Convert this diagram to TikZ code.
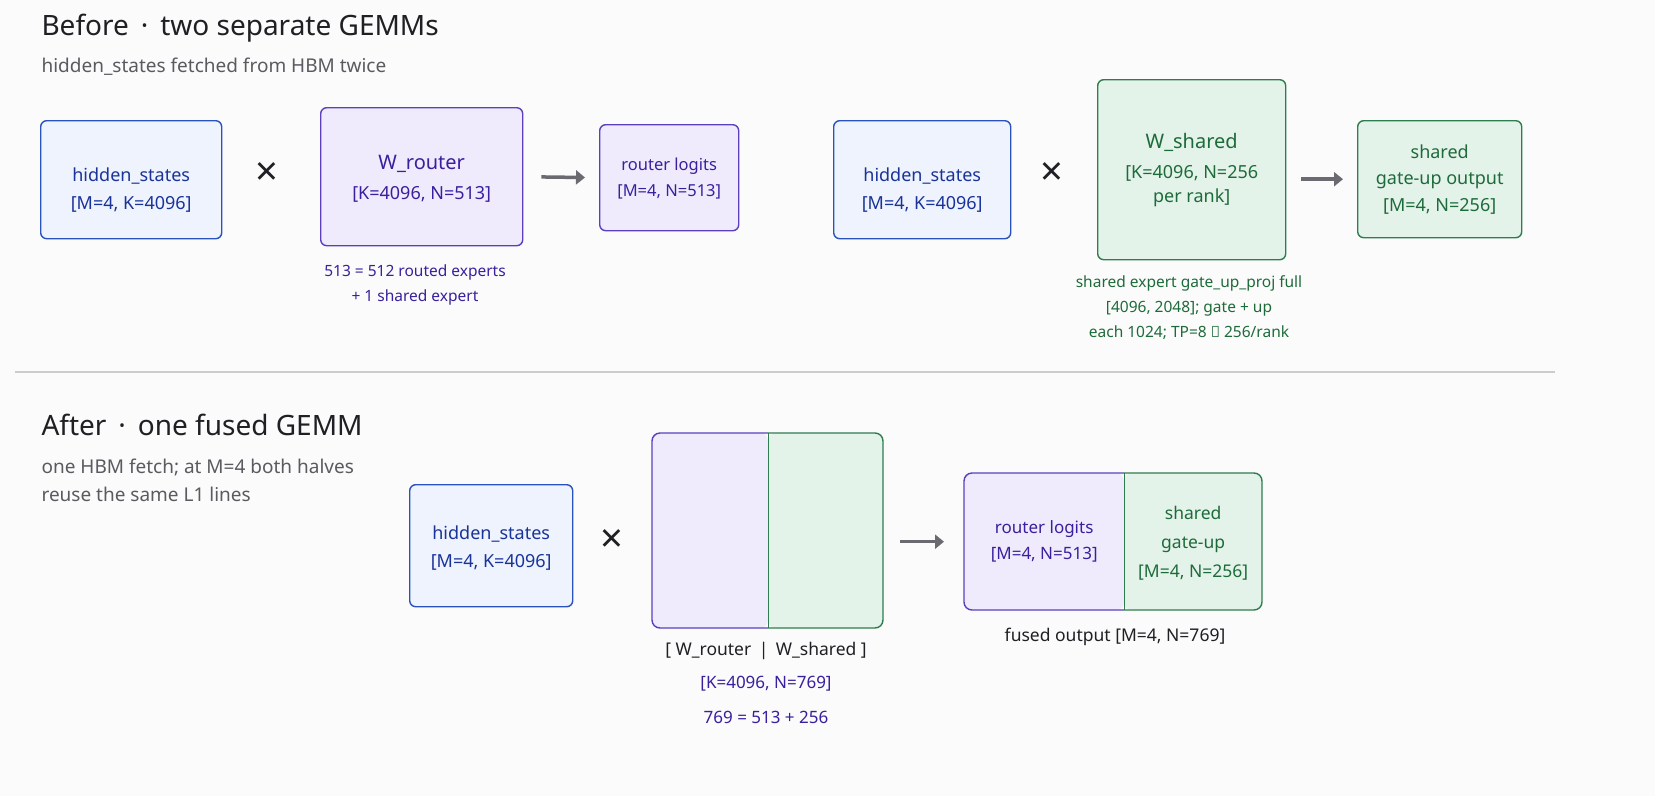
\documentclass[tikz,border=0pt]{standalone}
\usepackage{fontspec}
\setmainfont{Noto Sans}
\usetikzlibrary{arrows.meta}
\definecolor{bfill}{HTML}{EEF3FD}\definecolor{bline}{HTML}{2A52BE}\definecolor{btext}{HTML}{1A3399}
\definecolor{pfill}{HTML}{EFEBFC}\definecolor{pline}{HTML}{5B3FBF}\definecolor{ptext}{HTML}{3A1F9E}
\definecolor{gfill}{HTML}{E4F3EA}\definecolor{gline}{HTML}{2E7D4F}\definecolor{gtext}{HTML}{1E6B3A}
\definecolor{dark}{HTML}{1F1F24}\definecolor{sub}{HTML}{5A5A60}\definecolor{arr}{HTML}{6A6A70}
\tikzset{
 box/.style={draw,rounded corners=6pt,line width=1.4pt,inner sep=0pt,anchor=north west},
 bbox/.style={box,fill=bfill,draw=bline},
 pbox/.style={box,fill=pfill,draw=pline},
 gbox/.style={box,fill=gfill,draw=gline},
 lbl/.style={font=\fontsize{18}{22}\selectfont,align=center},
 captxt/.style={font=\fontsize{15.5}{25}\selectfont,align=center},
 title/.style={font=\fontsize{28}{32}\selectfont\bfseries,text=dark,anchor=west},
 subt/.style={font=\fontsize{19}{28}\selectfont,text=sub,anchor=west,align=left},
 times/.style={font=\fontsize{40}{40}\selectfont,text=dark},
 flow/.style={draw=arr,line width=3.5pt,-{Triangle[length=9pt,width=14pt]}},
 ghost/.style={inner sep=0pt,minimum width=0pt}
}
\begin{document}
\begin{tikzpicture}[x=1pt,y=-1pt]
\fill[white!97!gray] (0,0) rectangle (1655,796);
\useasboundingbox (0,0) rectangle (1655,796);
% Before
\node[title] (t1) at (38,28) {Before \,·\, two separate GEMMs};
\node[subt] (s1) at (38,67) {hidden\_states fetched from HBM twice};
\node[bbox,minimum width=181pt,minimum height=118pt] (hs1) at (40,120) {};
\node[lbl,text=btext] at ([yshift=-10pt]hs1.center) {\textbf{hidden\_states}\\[6pt]{}[M=4, K=4096]};
\node[times] (x1) at (267,174) {×};
\node[pbox,minimum width=202pt,minimum height=138pt] (wr) at (320,107) {};
\node[lbl,text=ptext] at ([yshift=-2pt]wr.center) {{\fontsize{20}{24}\selectfont\textbf{W\_router}}\\[8pt]{}[K=4096, N=513]};
\node[pbox,minimum width=139pt,minimum height=106pt] (rl) at (599,124) {};
\node[lbl,text=ptext,font=\fontsize{16.5}{22}\selectfont] at ([yshift=-1pt]rl.center) {\textbf{router logits}\\[4pt]{}[M=4, N=513]};
\draw[flow,shorten <=18pt,shorten >=14pt] (wr.east) -- (rl.west);
\node[captxt,text=ptext] (c1) at (415,285) {513 = 512 routed experts\\+ 1 shared expert};
\node[bbox,minimum width=177pt,minimum height=118pt] (hs2) at (833,120) {};
\node[lbl,text=btext] at ([yshift=-10pt]hs2.center) {\textbf{hidden\_states}\\[6pt]{}[M=4, K=4096]};
\node[times] (x2) at (1052,174) {×};
\node[gbox,minimum width=188pt,minimum height=180pt] (ws) at (1097,79) {};
\node[lbl,text=gtext] at (ws.center) {{\fontsize{20}{24}\selectfont\textbf{W\_shared}}\\[8pt]{}[K=4096, N=256\\[2pt]per rank]};
\node[gbox,minimum width=164pt,minimum height=117pt] (so) at (1357,120) {};
\node[lbl,text=gtext,font=\fontsize{18}{26}\selectfont] at (so.center) {\textbf{shared}\\\textbf{gate-up output}\\[1pt]{}[M=4, N=256]};
\draw[flow,shorten <=15pt,shorten >=14pt] (ws.east|-so.west) -- (so.west);
\node[captxt,text=gtext] (c2) at (1189,308) {shared expert gate\_up\_proj full\\{}[4096, 2048]; gate + up\\each 1024; TP=8 → 256/rank};
\draw[gray!40,line width=1.5pt] (15,372) -- (1555,372);
% After
\node[title] (t2) at (38,425) {After \,·\, one fused GEMM};
\node[subt] (s2) at (38,480) {one HBM fetch; at M=4 both halves\\reuse the same L1 lines};
\node[bbox,minimum width=163pt,minimum height=122pt] (hs3) at (409,484) {};
\node[lbl,text=btext] at ([yshift=-2pt]hs3.center) {\textbf{hidden\_states}\\[6pt]{}[M=4, K=4096]};
\node[times] (x3) at (612,541) {×};
% fused weight
\node[ghost,anchor=north west,minimum width=116pt,minimum height=195pt] (fl) at (652,433) {};
\node[ghost,anchor=north west,minimum width=115pt,minimum height=195pt] (fr) at (768,433) {};
\fill[pfill,rounded corners=8pt] (768,433) -- (652,433) -- (652,628) -- (768,628) -- cycle;
\fill[gfill,rounded corners=8pt] (768,433) -- (883,433) -- (883,628) -- (768,628) -- cycle;
\draw[pline,line width=1.4pt,rounded corners=8pt] (768,433) -- (652,433) -- (652,628) -- (768,628);
\draw[gline,line width=1.4pt,rounded corners=8pt] (768,433) -- (883,433) -- (883,628) -- (768,628);
\draw[gline,line width=1.4pt] (fl.north east) -- (fl.south east);
\node[lbl,text=dark,font=\fontsize{17.5}{22}\selectfont\bfseries] (fwl) at (766,651) {[ W\_router \,|\, W\_shared ]};
\node[lbl,text=ptext,font=\fontsize{17}{22}\selectfont] (fwd) at (766,684) {[K=4096, N=769]};
\node[lbl,text=ptext,font=\fontsize{17}{22}\selectfont] (fwe) at (766,717) {769 = 513 + 256};
% fused output
\node[ghost,anchor=north west,minimum width=160pt,minimum height=137pt] (ol) at (964,473) {};
\node[ghost,anchor=north west,minimum width=138pt,minimum height=137pt] (or) at (1124,473) {};
\fill[pfill,rounded corners=8pt] (1124,473) -- (964,473) -- (964,610) -- (1124,610) -- cycle;
\fill[gfill,rounded corners=8pt] (1124,473) -- (1262,473) -- (1262,610) -- (1124,610) -- cycle;
\draw[pline,line width=1.4pt,rounded corners=8pt] (1124,473) -- (964,473) -- (964,610) -- (1124,610);
\draw[gline,line width=1.4pt,rounded corners=8pt] (1124,473) -- (1262,473) -- (1262,610) -- (1124,610);
\draw[gline,line width=1.4pt] (ol.north east) -- (ol.south east);
\node[lbl,text=ptext,font=\fontsize{17}{22}\selectfont] at ([yshift=0pt]ol.center) {\textbf{router logits}\\[4pt]{}[M=4, N=513]};
\node[lbl,text=gtext,font=\fontsize{17.5}{29}\selectfont] at ([yshift=-2pt]or.center) {\textbf{shared}\\\textbf{gate-up}\\{}[M=4, N=256]};
\draw[flow,shorten <=17pt,shorten >=20pt] (fr.east|-ol.west) -- (ol.west);
\node[lbl,text=dark,font=\fontsize{17.5}{22}\selectfont\bfseries] (fo) at (1115,637) {fused output [M=4, N=769]};
\end{tikzpicture}
\end{document}
